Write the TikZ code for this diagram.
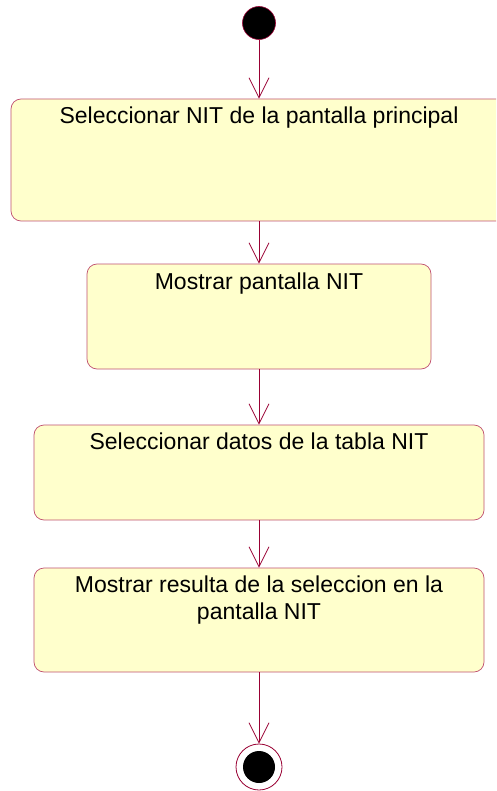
\documentclass[tikz,border=0pt]{standalone}
\usepackage{fontspec}
\setmainfont{Liberation Sans}
\usetikzlibrary{arrows.meta}
\definecolor{umlline}{HTML}{990033}
\definecolor{umlfill}{HTML}{FFFFCC}
\definecolor{umlborder}{HTML}{C05070}
\begin{document}
\begin{tikzpicture}[x=1pt,y=-1pt,
  actbox/.style={draw=umlborder, fill=umlfill, rounded corners=10pt, line width=0.7pt, inner sep=0pt},
  lbl/.style={font=\fontsize{23}{27}\selectfont, anchor=base, inner sep=0pt, align=center, text=black},
  flow/.style={draw=umlline, line width=0.8pt, -{Straight Barb[length=20pt,width=20pt,line width=0.8pt]}}]
\useasboundingbox (0,0) rectangle (496,791);
\clip (0,0) rectangle (496,791);
\fill[white] (0,0) rectangle (496,791);
% initial and final states
\node[circle, fill=black, draw=umlline, line width=0.6pt, minimum size=33pt, inner sep=0pt] (start) at (259,23) {};
\node[circle, draw=umlline, fill=white, line width=0.8pt, minimum size=46pt, inner sep=0pt] (end) at (259,767) {};
\node[circle, fill=black, minimum size=32pt, inner sep=0pt] (endin) at (259,767) {};
% activity boxes
\node[actbox, minimum width=496pt, minimum height=122pt] (b1) at (259,160) {};
\node[actbox, minimum width=344pt, minimum height=105pt] (b2) at (259,316.5) {};
\node[actbox, minimum width=450pt, minimum height=95pt] (b3) at (259,472.5) {};
\node[actbox, minimum width=450pt, minimum height=104pt] (b4) at (259,620) {};
% labels
\node[lbl] (t1) at ([yshift=-25pt]b1.north) {Seleccionar NIT de la pantalla principal};
\node[lbl] (t2) at ([yshift=-26pt]b2.north) {Mostrar pantalla NIT};
\node[lbl] (t3) at ([yshift=-25pt]b3.north) {Seleccionar datos de la tabla NIT};
\node[lbl] (t4) at ([yshift=-52pt]b4.north) {Mostrar resulta de la seleccion en la\\pantalla NIT};
% transitions
\draw[flow] (start) -- (b1);
\draw[flow] (b1) -- (b2);
\draw[flow] (b2) -- (b3);
\draw[flow] (b3) -- (b4);
\draw[flow] (b4) -- (end);
\end{tikzpicture}
\end{document}
